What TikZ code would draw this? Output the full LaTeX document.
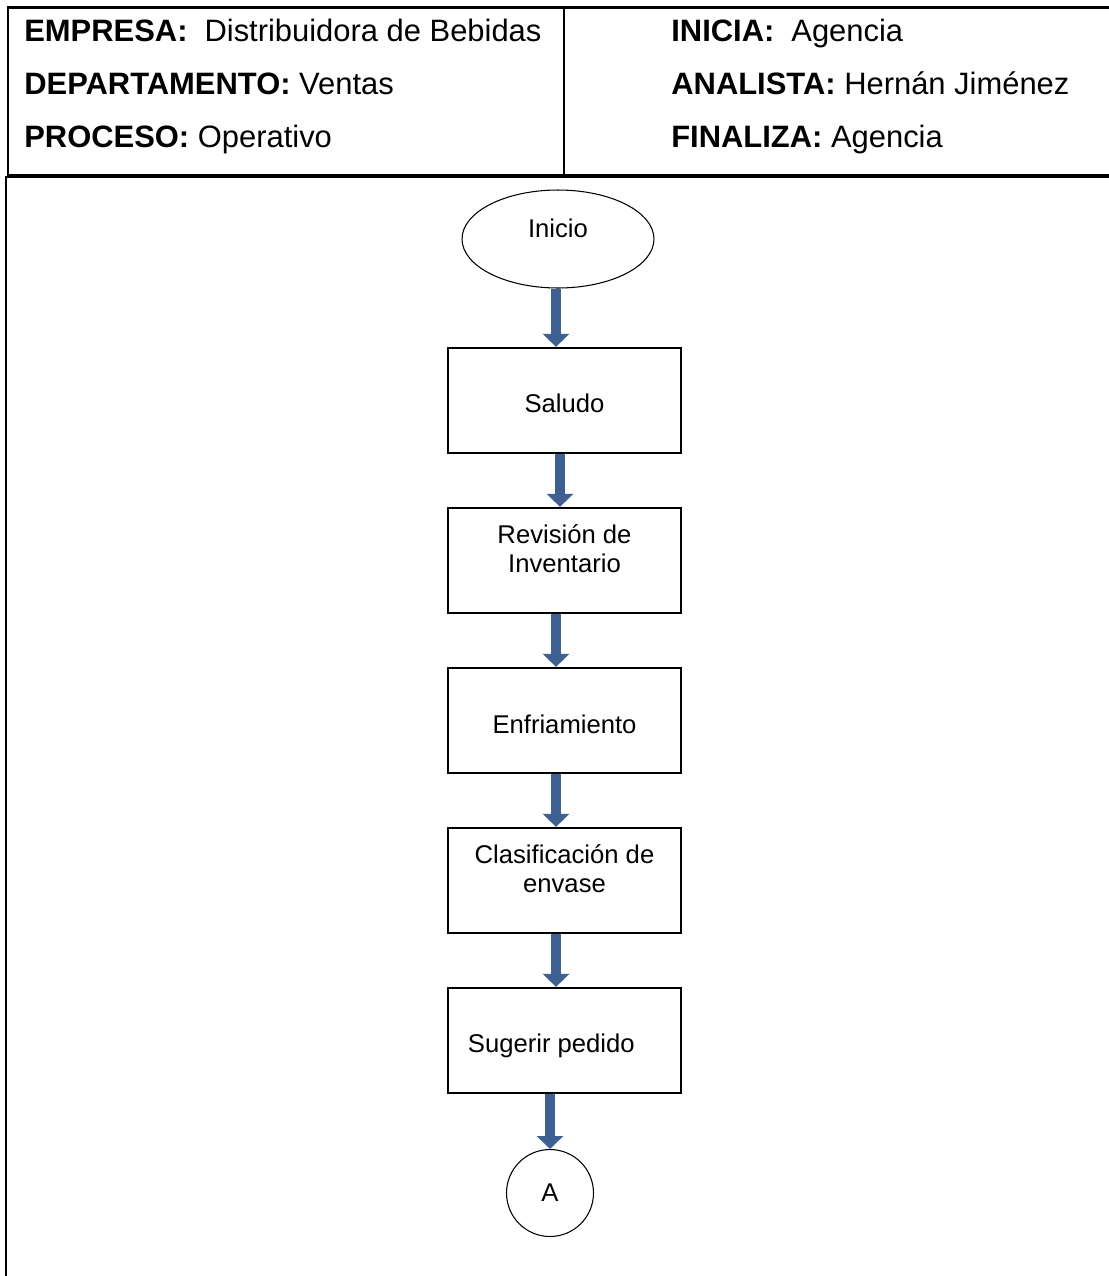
\documentclass[tikz,border=0pt]{standalone}
\usepackage{fontspec}
\setmainfont{Liberation Sans}
\usetikzlibrary{shapes.geometric,arrows.meta}

\definecolor{azulflecha}{RGB}{62,96,146}

\tikzset{
  encabezado/.style={anchor=base west, inner sep=0pt, font=\fontsize{17.6}{21}\selectfont},
  caja/.style={draw, line width=1.3pt, minimum width=4.66cm, minimum height=2.1cm,
    align=center, inner sep=2pt, font=\fontsize{14.6}{17}\selectfont},
  terminal/.style={draw, ellipse, line width=0.6pt, minimum width=3.84cm, minimum height=1.96cm,
    inner sep=0pt, font=\fontsize{14.6}{17}\selectfont},
  conector/.style={draw, circle, line width=0.6pt, minimum size=1.74cm,
    inner sep=0pt, font=\fontsize{14.6}{17}\selectfont},
  flecha/.style={draw=azulflecha, line width=5.4pt, -{Triangle[width=0.52cm,length=0.26cm]}}
}

\begin{document}
\begin{tikzpicture}[x=0.02cm, y=-0.02cm]

        % Area total del dibujo (en pixeles de la imagen)
        \useasboundingbox (0,0) rectangle (1109,1276);
        \fill[white] (0,0) rectangle (1109,1276);

        % Cuadro del encabezado y division central
        \draw[line width=1.7pt] (8,7) rectangle (1115,175);
        \draw[line width=1.7pt] (564,7) -- (564,175);

        % Marco de la parte inferior
        \draw[line width=1.1pt] (6,1280) -- (6,177) -- (1115,177);

        % Datos del encabezado (columna izquierda)
        \node[encabezado] (empresa) at (24,41) {\textbf{EMPRESA:}\hspace{0.55em}Distribuidora de Bebidas};
        \node[encabezado] (departamento) at (24,94) {\textbf{DEPARTAMENTO:} Ventas};
        \node[encabezado] (proceso) at (24,147) {\textbf{PROCESO:} Operativo};

        % Datos del encabezado (columna derecha)
        \node[encabezado] (inicia) at (671,41) {\textbf{INICIA:}\hspace{0.55em}Agencia};
        \node[encabezado] (analista) at (671,94) {\textbf{ANALISTA:} Hernán Jiménez};
        \node[encabezado] (finaliza) at (671,147) {\textbf{FINALIZA:} Agencia};

        % Pasos del diagrama de flujo
        \node[terminal, text depth=0.44cm] (inicio) at (558,239) {Inicio};
        \node[caja, text height=0.49cm] (saludo) at (564.5,400.5) {Saludo};
        \node[caja, text depth=0.48cm] (revision) at (564.5,560.5) {Revisión de\\Inventario};
        \node[caja, text height=0.53cm] (enfriamiento) at (564.5,720.5) {Enfriamiento};
        \node[caja, text depth=0.48cm] (clasificacion) at (564.5,880.5) {Clasificación de\\envase};
        \node[caja, text height=0.57cm] (sugerir) at (564.5,1040.5) {\hspace{-15pt}Sugerir pedido};
        \node[conector] (a) at (550,1193) {A};

        % Flechas entre los pasos
        \draw[flecha] ([xshift=-0.04cm]inicio.south) -- ([xshift=-0.04cm]inicio.south |- saludo.north);
        \draw[flecha] ([xshift=-0.09cm]saludo.south) -- ([xshift=-0.09cm]revision.north);
        \draw[flecha] ([xshift=-0.17cm]revision.south) -- ([xshift=-0.17cm]enfriamiento.north);
        \draw[flecha] ([xshift=-0.17cm]enfriamiento.south) -- ([xshift=-0.17cm]clasificacion.north);
        \draw[flecha] ([xshift=-0.17cm]clasificacion.south) -- ([xshift=-0.17cm]sugerir.north);
        \draw[flecha] (a.north |- sugerir.south) -- (a.north);

    \end{tikzpicture}
\end{document}
